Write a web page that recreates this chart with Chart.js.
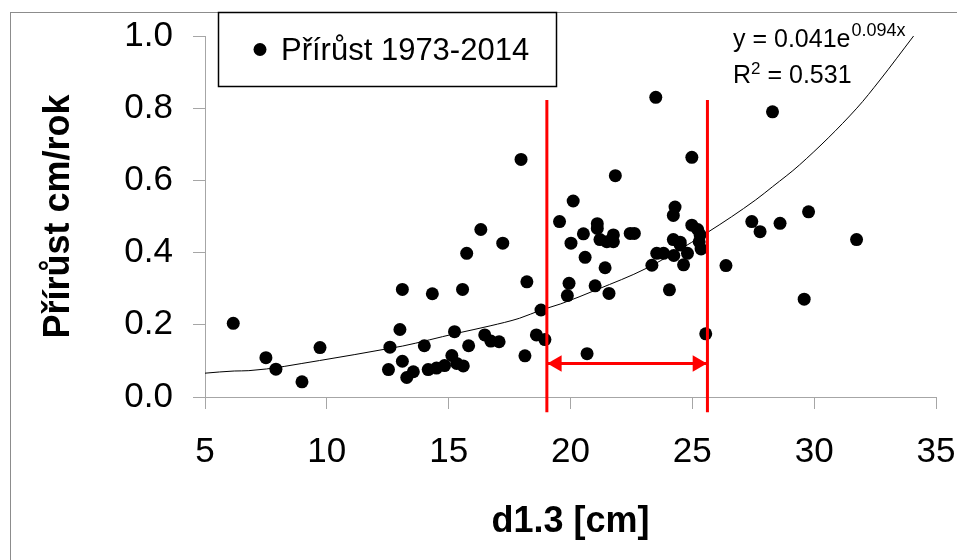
<!DOCTYPE html>
<html>
<head>
<meta charset="utf-8">
<script src="https://cdn.jsdelivr.net/npm/chart.js@4.4.0/dist/chart.umd.min.js"></script>
<style>
  html, body { margin: 0; padding: 0; background: #fff; }
</style>
</head>
<body>
<canvas id="graf" width="957" height="560"></canvas>
<script>
// namerene hodnoty - d1.3 [cm] a prirust [cm/rok]
var prumer = [6.16, 7.50, 7.91, 8.98, 9.72, 12.53, 12.59, 13.00, 13.10, 13.10,
  13.28, 13.55, 14.00, 14.16, 14.33, 14.50, 14.83, 15.13, 15.24, 15.33,
  15.57, 15.60, 15.74, 15.82, 16.32, 16.48, 16.73, 17.07, 17.22, 17.97,
  18.13, 18.21, 18.60, 18.79, 18.95, 19.55, 19.87, 19.94, 20.02, 20.11,
  20.53, 20.60, 20.68, 21.01, 21.10, 21.10, 21.21, 21.42, 21.49, 21.58,
  21.76, 21.76, 21.84, 22.45, 22.62, 23.34, 23.50, 23.54, 23.82, 24.06,
  24.22, 24.22, 24.24, 24.29, 24.50, 24.50, 24.64, 24.80, 24.98, 24.98,
  25.22, 25.32, 25.28, 25.36, 25.55, 26.38, 27.44, 27.78, 28.29, 28.60,
  29.59, 29.77, 31.74];
var prirust = [0.204, 0.109, 0.077, 0.042, 0.137, 0.076, 0.138, 0.187, 0.298, 0.099,
  0.054, 0.070, 0.142, 0.076, 0.286, 0.080, 0.087, 0.115, 0.181, 0.093,
  0.298, 0.086, 0.398, 0.142, 0.464, 0.172, 0.155, 0.153, 0.426, 0.658,
  0.114, 0.319, 0.172, 0.241, 0.159, 0.486, 0.281, 0.315, 0.426, 0.543,
  0.452, 0.387, 0.120, 0.308, 0.480, 0.467, 0.436, 0.358, 0.430, 0.287,
  0.449, 0.430, 0.613, 0.453, 0.453, 0.365, 0.830, 0.398, 0.398, 0.297,
  0.503, 0.436, 0.392, 0.526, 0.429, 0.421, 0.366, 0.398, 0.664, 0.476,
  0.464, 0.449, 0.430, 0.410, 0.175, 0.364, 0.486, 0.458, 0.790, 0.481,
  0.271, 0.513, 0.436];

// spojnice trendu (exponencialni) - body odectene z krivky
var trendX = [5, 6.2, 6.8, 9.7, 12.6, 13.1, 15.3, 16.7, 17.9, 18.8, 19.6, 21.1,
  23.1, 25.6, 27.6, 28.3, 29.4, 31.75, 32.7, 34.08];
var trendY = [0.066, 0.072, 0.073, 0.101, 0.135, 0.141, 0.176, 0.197, 0.218, 0.241, 0.258, 0.298,
  0.356, 0.455, 0.546, 0.583, 0.643, 0.800, 0.878, 1.0];

// cervene hranice a sipka mezi nimi
var hraniceX = [19.03, 25.62];
var hraniceY = [-0.042, 0.823];
var sipkaX = [19.03, 19.44, 25.21, 25.62];
var sipkaY = 0.093;

var xTicks = [5, 10, 15, 20, 25, 30, 35];
var yTicks = [0.0, 0.2, 0.4, 0.6, 0.8, 1.0];

var legendaText = 'Přírůst 1973-2014';
var rovnice = ['y = 0.041e', '0.094x'];
var spolehlivost = ['R', '2', ' = 0.531'];

var pismo = '"Liberation Sans", Arial, sans-serif';
var seda = '#a6a6a6';

function body(xs, ys) {
  return xs.map(function (x, i) { return { x: x, y: Array.isArray(ys) ? ys[i] : ys }; });
}

// ramecek, legenda a rovnice trendu
var doplnky = {
  id: 'doplnky',
  beforeDraw: function (chart) {
    var ctx = chart.ctx;
    ctx.save();
    ctx.strokeStyle = '#8c8c8c';
    ctx.lineWidth = 1;
    ctx.strokeRect(10.5, 12.5, 1200, 1200);
    ctx.restore();
  },
  afterDraw: function (chart) {
    var ctx = chart.ctx;
    ctx.save();
    // legenda
    ctx.fillStyle = '#fff';
    ctx.fillRect(218, 12, 339, 75);
    ctx.strokeStyle = '#000';
    ctx.lineWidth = 1.5;
    ctx.strokeRect(218.5, 12.5, 338, 74);
    ctx.fillStyle = '#000';
    ctx.beginPath();
    ctx.arc(260, 49.5, 6.5, 0, Math.PI * 2);
    ctx.fill();
    ctx.font = '31px ' + pismo;
    ctx.textBaseline = 'alphabetic';
    ctx.fillText(legendaText, 281, 60);

    // rovnice
    ctx.font = '25px ' + pismo;
    ctx.fillText(rovnice[0], 733, 47);
    var w = ctx.measureText(rovnice[0]).width;
    ctx.font = '18px ' + pismo;
    ctx.fillText(rovnice[1], 733 + w + 1, 36);

    ctx.font = '25px ' + pismo;
    ctx.fillText(spolehlivost[0], 733, 83);
    var w2 = ctx.measureText(spolehlivost[0]).width;
    ctx.font = '17px ' + pismo;
    ctx.fillText(spolehlivost[1], 733 + w2, 74);
    var w3 = ctx.measureText(spolehlivost[1]).width;
    ctx.font = '25px ' + pismo;
    ctx.fillText(spolehlivost[2], 733 + w2 + w3, 83);
    ctx.restore();
  }
};

var ctx = document.getElementById('graf');
var chart = new Chart(ctx, {
  type: 'scatter',
  data: {
    datasets: [{
      label: legendaText,
      data: body(prumer, prirust),
      backgroundColor: '#000',
      borderWidth: 0,
      pointRadius: 6.5,
      order: 1
    }, {
      label: 'trend',
      type: 'line',
      data: body(trendX, trendY),
      borderColor: '#000',
      borderWidth: 1,
      pointRadius: 0,
      cubicInterpolationMode: 'monotone',
      fill: false,
      order: 2
    }, {
      label: 'hranice1',
      type: 'line',
      data: body([hraniceX[0], hraniceX[0]], hraniceY),
      borderColor: '#ff0000',
      borderWidth: 3,
      pointRadius: 0,
      clip: false,
      order: 0
    }, {
      label: 'hranice2',
      type: 'line',
      data: body([hraniceX[1], hraniceX[1]], hraniceY),
      borderColor: '#ff0000',
      borderWidth: 3,
      pointRadius: 0,
      clip: false,
      order: 0
    }, {
      label: 'sipka',
      type: 'line',
      data: body(sipkaX, sipkaY),
      borderColor: '#ff0000',
      borderWidth: 3,
      pointStyle: 'triangle',
      pointRadius: [0, 9.5, 9.5, 0],
      pointRotation: [0, -90, 90, 0],
      pointBackgroundColor: '#ff0000',
      pointBorderColor: '#ff0000',
      pointBorderWidth: 0,
      order: 0
    }]
  },
  options: {
    responsive: false,
    animation: false,
    layout: { padding: { top: 36, right: 21, bottom: 0, left: 0 } },
    plugins: {
      legend: { display: false },
      tooltip: { enabled: false }
    },
    scales: {
      x: {
        type: 'linear',
        min: xTicks[0],
        max: xTicks[xTicks.length - 1],
        afterBuildTicks: function (s) { s.ticks = xTicks.map(function (v) { return { value: v }; }); },
        afterFit: function (s) { s.height = 163; s.paddingLeft = 0; s.paddingRight = 0; },
        grid: { drawOnChartArea: false, color: seda, tickLength: 12 },
        border: { color: seda, width: 1 },
        ticks: { color: '#000', padding: 22, font: { family: pismo, size: 35 } },
        title: {
          display: true,
          text: 'd1.3 [cm]',
          color: '#000',
          font: { family: pismo, size: 36, weight: 'bold' },
          padding: { top: 0, bottom: 16 }
        }
      },
      y: {
        type: 'linear',
        min: yTicks[0],
        max: yTicks[yTicks.length - 1],
        afterBuildTicks: function (s) { s.ticks = yTicks.map(function (v) { return { value: v }; }); },
        afterFit: function (s) { s.width = 205; s.paddingTop = 0; s.paddingBottom = 0; },
        grid: { drawOnChartArea: false, color: seda, tickLength: 12 },
        border: { color: seda, width: 1 },
        ticks: {
          color: '#000',
          padding: 20,
          font: { family: pismo, size: 35 },
          callback: function (v) { return Number(v).toFixed(1); }
        },
        title: {
          display: true,
          text: 'Přírůst cm/rok',
          color: '#000',
          font: { family: pismo, size: 36, weight: 'bold' },
          padding: { top: 37, bottom: 0 }
        }
      }
    }
  },
  plugins: [doplnky]
});
</script>
</body>
</html>
